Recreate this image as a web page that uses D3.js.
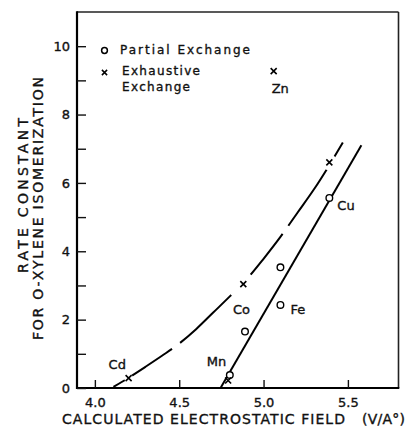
<!DOCTYPE html>
<html>
<head>
<meta charset="utf-8">
<script src="https://cdn.jsdelivr.net/npm/d3@7"></script>
<style>
  html, body { margin: 0; padding: 0; background: #fff; }
  svg { display: block; }
  text { font-family: "DejaVu Sans", sans-serif; fill: #111; stroke: #111; stroke-width: 0.35px; }
</style>
</head>
<body>
<svg id="chart" width="410" height="427"></svg>
<script>
// Partial exchange (circles)
const partialField = [4.80, 4.89, 5.10, 5.10, 5.39];
const partialRate  = [0.38, 1.65, 2.43, 3.53, 5.56];
const partialMetal = ["Mn", "Co", "Fe", "", "Cu"];

// Exhaustive exchange (crosses)
const exhaustiveField = [4.20, 4.79, 4.88, 5.06, 5.39];
const exhaustiveRate  = [0.29, 0.22, 3.04, 9.27, 6.60];
const exhaustiveMetal = ["Cd", "", "", "Zn", ""];

// Straight fit through the partial-exchange points
const partialFitField = [4.745, 5.58];
const partialFitRate  = [0, 7.10];

// Dashed curve through the exhaustive-exchange points
const exhaustiveCurveField = [4.10, 4.20, 4.30, 4.40, 4.50, 4.60, 4.70, 4.80, 4.90, 5.00, 5.10, 5.20, 5.30, 5.40, 5.47];
const exhaustiveCurveRate  = [0.00, 0.30, 0.62, 0.95, 1.30, 1.72, 2.20, 2.68, 3.18, 3.78, 4.42, 5.12, 5.82, 6.60, 7.18];

const xTicks = [4.0, 4.5, 5.0, 5.5];
const xTickLabels = ["4.0", "4.5", "5.0", "5.5"];
const yTicks = [0, 1, 2, 3, 4, 5, 6, 7, 8, 9, 10];
const yTickLabels = ["0", "", "2", "", "4", "", "6", "", "8", "", "10"];

const legendNames = [["Partial Exchange"], ["Exhaustive", "Exchange"]];
const xTitle = ["CALCULATED ELECTROSTATIC FIELD", "(V/A\u00B0)"];
const yTitle = ["RATE CONSTANT", "FOR O-XYLENE ISOMERIZATION"];

const svg = d3.select("#chart");
const frame = { left: 77, top: 12, right: 398.5, bottom: 388 };

const x = d3.scaleLinear().domain([3.9, 5.8]).range([78, 398.5]);
const y = d3.scaleLinear().domain([0, 11]).range([388, 12]);

// frame
svg.append("line").attr("x1", frame.left).attr("x2", frame.right)
  .attr("y1", frame.top).attr("y2", frame.top)
  .attr("stroke", "#222").attr("stroke-width", 1.4);
svg.append("line").attr("x1", frame.right).attr("x2", frame.right)
  .attr("y1", frame.top).attr("y2", frame.bottom)
  .attr("stroke", "#222").attr("stroke-width", 1.6);
svg.append("line").attr("x1", frame.left).attr("x2", frame.left)
  .attr("y1", frame.top - 0.7).attr("y2", frame.bottom + 1)
  .attr("stroke", "#000").attr("stroke-width", 2.2);
svg.append("line").attr("x1", frame.left - 1).attr("x2", frame.right + 0.8)
  .attr("y1", frame.bottom).attr("y2", frame.bottom)
  .attr("stroke", "#000").attr("stroke-width", 2.2);

// axes with inward ticks
const yAxis = svg.append("g")
  .attr("transform", `translate(${frame.left},0)`)
  .call(d3.axisLeft(y).tickValues(yTicks)
    .tickFormat((d, i) => yTickLabels[i])
    .tickSizeInner(-9).tickSizeOuter(0).tickPadding(7));
yAxis.select(".domain").remove();
yAxis.selectAll(".tick line").attr("stroke", "#111").attr("stroke-width", 1.4);
yAxis.selectAll(".tick text")
  .attr("font-family", "DejaVu Sans, sans-serif")
  .attr("font-size", 13).attr("fill", "#111");

const xAxis = svg.append("g")
  .attr("transform", `translate(0,${frame.bottom})`)
  .call(d3.axisBottom(x).tickValues(xTicks)
    .tickFormat((d, i) => xTickLabels[i])
    .tickSizeInner(-8).tickSizeOuter(0).tickPadding(10));
xAxis.select(".domain").remove();
xAxis.selectAll(".tick line").attr("stroke", "#111").attr("stroke-width", 1.4);
xAxis.selectAll(".tick text")
  .attr("font-family", "DejaVu Sans, sans-serif")
  .attr("font-size", 13).attr("fill", "#111");

// axis titles
svg.append("text").attr("x", 62).attr("y", 424)
  .attr("font-size", 14).attr("textLength", 283).attr("lengthAdjust", "spacing")
  .text(xTitle[0]);
svg.append("text").attr("x", 362).attr("y", 424)
  .attr("font-size", 14).attr("textLength", 43).attr("lengthAdjust", "spacing")
  .text(xTitle[1]);

svg.append("text").attr("transform", "translate(28,195.5) rotate(-90)")
  .attr("text-anchor", "middle").attr("font-size", 14)
  .attr("textLength", 155).attr("lengthAdjust", "spacing")
  .text(yTitle[0]);
svg.append("text").attr("transform", "translate(43,208.5) rotate(-90)")
  .attr("text-anchor", "middle").attr("font-size", 14)
  .attr("textLength", 263).attr("lengthAdjust", "spacing")
  .text(yTitle[1]);

// exhaustive-exchange dashed curve
const curveData = exhaustiveCurveField.map((f, i) => [f, exhaustiveCurveRate[i]]);
svg.append("path").datum(curveData)
  .attr("d", d3.line().x(d => x(d[0])).y(d => y(d[1])).curve(d3.curveMonotoneX))
  .attr("fill", "none").attr("stroke", "#000").attr("stroke-width", 2)
  .attr("stroke-dasharray", "70,10").attr("stroke-dashoffset", -2);

// white breaks in the dashed curve where the crosses sit
const breakRadius = { "4.2": 4.5, "4.88": 12, "5.39": 8 };
exhaustiveField.forEach((f, i) => {
  const r = breakRadius[String(f)];
  if (!r) return;
  svg.append("circle").attr("cx", x(f)).attr("cy", y(exhaustiveRate[i]))
    .attr("r", r).attr("fill", "#fff");
});

// partial-exchange straight fit
const fitData = partialFitField.map((f, i) => [f, partialFitRate[i]]);
svg.append("path").datum(fitData)
  .attr("d", d3.line().x(d => x(d[0])).y(d => y(d[1])))
  .attr("fill", "none").attr("stroke", "#000").attr("stroke-width", 2);

const crossPath = s => `M${-s},${-s}L${s},${s}M${s},${-s}L${-s},${s}`;

// markers
partialField.forEach((f, i) => {
  svg.append("circle").attr("cx", x(f)).attr("cy", y(partialRate[i]))
    .attr("r", 3.3).attr("fill", "#fff").attr("stroke", "#000").attr("stroke-width", 1.4);
});
exhaustiveField.forEach((f, i) => {
  svg.append("path").attr("transform", `translate(${x(f)},${y(exhaustiveRate[i])})`)
    .attr("d", crossPath(3)).attr("stroke", "#000").attr("stroke-width", 1.6)
    .attr("fill", "none");
});

// metal labels placed beside their markers
const labelOffset = {
  Mn: [-23, -9], Co: [-12, -18], Fe: [10, 9], Cu: [8, 12], Cd: [-20, -9], Zn: [-2, 22]
};
const addLabels = (fields, rates, names) => {
  fields.forEach((f, i) => {
    const name = names[i];
    if (!name) return;
    const [dx, dy] = labelOffset[name];
    svg.append("text").attr("x", x(f) + dx).attr("y", y(rates[i]) + dy)
      .attr("font-size", 13).text(name);
  });
};
addLabels(partialField, partialRate, partialMetal);
addLabels(exhaustiveField, exhaustiveRate, exhaustiveMetal);

// legend
svg.append("circle").attr("cx", 104.5).attr("cy", 50.5).attr("r", 2.9)
  .attr("fill", "none").attr("stroke", "#000").attr("stroke-width", 1.5);
svg.append("text").attr("x", 120).attr("y", 54).attr("font-size", 12)
  .attr("textLength", 130).attr("lengthAdjust", "spacing").text(legendNames[0][0]);
svg.append("path").attr("transform", "translate(104.5,72.5)")
  .attr("d", crossPath(2.6)).attr("stroke", "#000").attr("stroke-width", 1.5);
svg.append("text").attr("x", 122).attr("y", 75).attr("font-size", 12)
  .attr("textLength", 78).attr("lengthAdjust", "spacing").text(legendNames[1][0]);
svg.append("text").attr("x", 122).attr("y", 91).attr("font-size", 12)
  .attr("textLength", 68).attr("lengthAdjust", "spacing").text(legendNames[1][1]);
</script>
</body>
</html>
